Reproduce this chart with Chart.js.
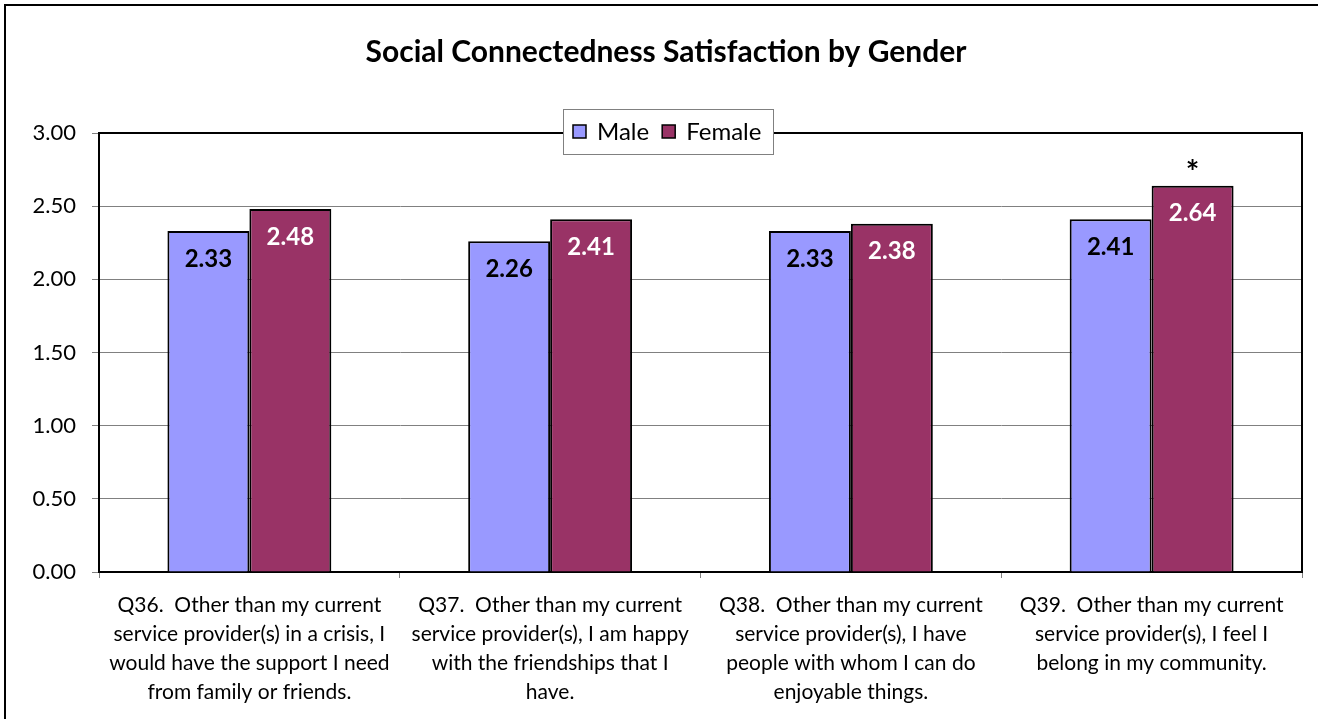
<!DOCTYPE html>
<html>
<head>
<meta charset="utf-8">
<title>Social Connectedness Satisfaction by Gender</title>
<script src="https://cdn.jsdelivr.net/npm/chart.js@4.4.1/dist/chart.umd.min.js"></script>
<style>
  html, body { margin: 0; padding: 0; background: #fff; }
  #chart { display: block; }
</style>
</head>
<body>
<canvas id="chart" width="1318" height="719"></canvas>
<script>
// ---- Data ----

const questions = [
  ['Q36.  Other than my current', 'service provider(s) in a crisis, I', 'would have the support I need', 'from family or friends.'],
  ['Q37.  Other than my current', 'service provider(s), I am happy', 'with the friendships that I', 'have.'],
  ['Q38.  Other than my current', 'service provider(s), I have', 'people with whom I can do', 'enjoyable things.'],
  ['Q39.  Other than my current', 'service provider(s), I feel I', 'belong in my community.']
];
const maleScores = [2.33, 2.26, 2.33, 2.41];
const femaleScores = [2.48, 2.41, 2.38, 2.64];
// significant gender difference, marked with an asterisk over the female bar
const significant = [false, false, false, true];
const yTicks = [0, 0.5, 1, 1.5, 2, 2.5, 3];

const chartTitle = 'Social Connectedness Satisfaction by Gender';
const FONT = 'Lato, "Open Sans", sans-serif';

// ---- Plugins ----

// white page, open frame along top and left edges, title, black plot border
const framePlugin = {
  id: 'frame',
  beforeDraw(chart) {
    const ctx = chart.ctx;
    ctx.save();
    ctx.fillStyle = '#fff';
    ctx.fillRect(0, 0, chart.width, chart.height);
    ctx.strokeStyle = '#000';
    ctx.lineWidth = 2;
    ctx.beginPath();
    ctx.moveTo(5, chart.height);
    ctx.lineTo(5, 5);
    ctx.lineTo(chart.width, 5);
    ctx.stroke();

    ctx.fillStyle = '#000';
    ctx.font = 'bold 30px ' + FONT;
    ctx.textAlign = 'center';
    ctx.textBaseline = 'middle';
    ctx.fillText(chartTitle, 666, 52);
    ctx.restore();
  },
  beforeDatasetsDraw(chart) {
    const a = chart.chartArea;
    const ctx = chart.ctx;
    ctx.save();
    ctx.strokeStyle = '#000';
    ctx.lineWidth = 2;
    ctx.strokeRect(a.left, a.top, a.right - a.left, a.bottom - a.top);
    ctx.restore();
  }
};

// value labels inside the bars, asterisks, and the boxed legend on the top border
const labelPlugin = {
  id: 'barLabels',
  afterDatasetsDraw(chart) {
    const ctx = chart.ctx;
    ctx.save();
    ctx.textAlign = 'center';
    ctx.textBaseline = 'middle';
    chart.data.datasets.forEach((ds, di) => {
      chart.getDatasetMeta(di).data.forEach((bar, i) => {
        ctx.font = 'bold 24px ' + FONT;
        ctx.fillStyle = ds.labelColor;
        ctx.fillText(ds.data[i].toFixed(2), bar.x, bar.y + 28);
        if (di === 1 && significant[i]) {
          ctx.fillStyle = '#000';
          ctx.font = 'bold 32px ' + FONT;
          ctx.fillText('*', bar.x, bar.y - 12);
        }
      });
    });
    ctx.restore();
  },
  afterDraw(chart) {
    const ctx = chart.ctx;
    const box = { x: 563, y: 109, w: 210, h: 45 };
    ctx.save();
    ctx.fillStyle = '#fff';
    ctx.fillRect(box.x, box.y, box.w, box.h);
    ctx.strokeStyle = '#808080';
    ctx.lineWidth = 1;
    ctx.strokeRect(box.x + 0.5, box.y + 0.5, box.w, box.h);

    ctx.font = '24px ' + FONT;
    ctx.textBaseline = 'middle';
    ctx.textAlign = 'left';
    const cy = box.y + box.h / 2;
    let x = box.x + 10;
    chart.data.datasets.forEach(ds => {
      ctx.fillStyle = ds.backgroundColor;
      ctx.fillRect(x, cy - 6.5, 13, 13);
      ctx.strokeStyle = '#000';
      ctx.lineWidth = 1.5;
      ctx.strokeRect(x, cy - 6.5, 13, 13);
      ctx.fillStyle = '#000';
      ctx.fillText(ds.label, x + 24, cy + 1);
      x += 24 + ctx.measureText(ds.label).width + 13;
    });
    ctx.restore();
  }
};

// ---- Chart ----

new Chart(document.getElementById('chart'), {
  type: 'bar',
  data: {
    labels: questions,
    datasets: [
      {
        label: 'Male',
        data: maleScores,
        backgroundColor: '#9999FF',
        borderColor: '#000',
        borderWidth: 2,
        labelColor: '#000'
      },
      {
        label: 'Female',
        data: femaleScores,
        backgroundColor: '#993366',
        borderColor: '#000',
        borderWidth: 2,
        labelColor: '#fff'
      }
    ]
  },
  options: {
    responsive: false,
    animation: false,
    devicePixelRatio: 1,
    categoryPercentage: 0.545,
    barPercentage: 1,
    layout: { padding: { top: 133, right: 16, bottom: 0, left: 0 } },
    plugins: {
      legend: { display: false },
      title: { display: false },
      tooltip: { enabled: false }
    },
    scales: {
      x: {
        afterFit: scale => { scale.height = 147; },
        grid: {
          offset: true,
          drawOnChartArea: false,
          drawTicks: true,
          tickLength: 6,
          color: '#808080'
        },
        border: { color: '#000', width: 2 },
        ticks: {
          color: '#000',
          padding: 13,
          maxRotation: 0,
          autoSkip: false,
          font: { family: FONT, size: 21, lineHeight: '29px' }
        }
      },
      y: {
        min: 0,
        max: 3,
        afterFit: scale => { scale.width = 99; },
        afterBuildTicks: scale => { scale.ticks = yTicks.map(v => ({ value: v })); },
        grid: {
          color: '#808080',
          lineWidth: 1,
          tickLength: 7
        },
        border: { color: '#000', width: 2 },
        ticks: {
          color: '#000',
          padding: 16,
          font: { family: FONT, size: 22 },
          callback: v => v.toFixed(2)
        }
      }
    }
  },
  plugins: [framePlugin, labelPlugin]
});
</script>
</body>
</html>
